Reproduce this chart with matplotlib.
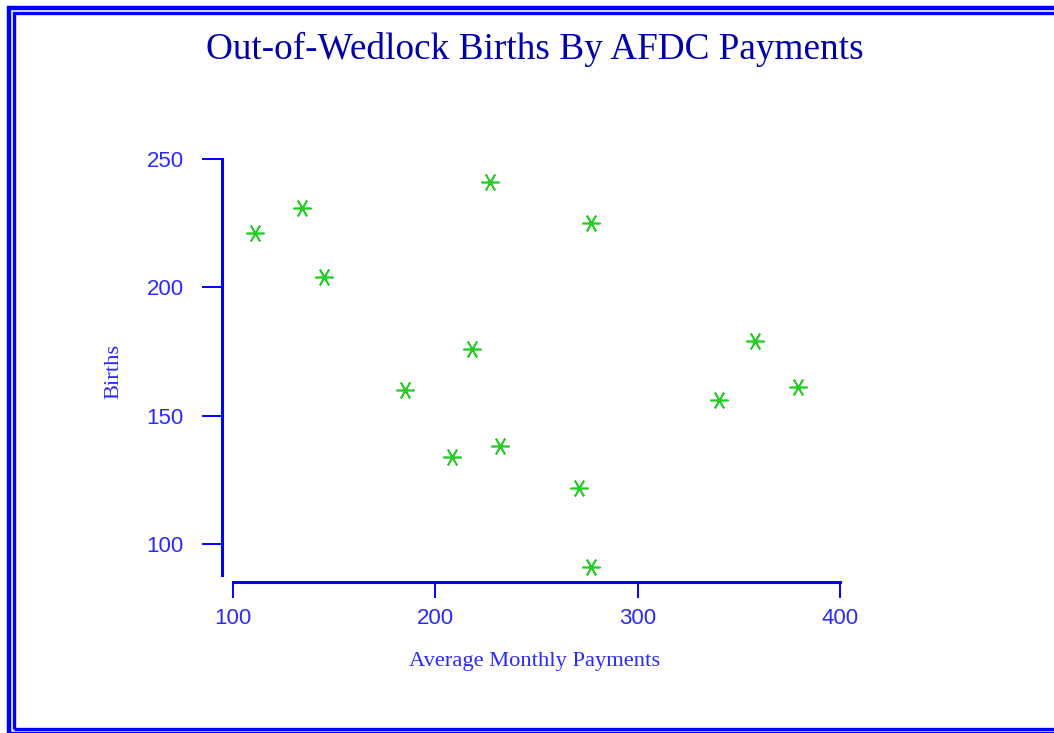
import matplotlib
matplotlib.use('Agg')
import matplotlib.pyplot as plt
from matplotlib.patches import Rectangle

# average monthly AFDC payments vs out-of-wedlock births
payments = [111, 134, 145, 227, 277, 218, 185, 208, 232, 271, 277, 340, 358, 379]
births = [221, 231, 204, 241, 225, 176, 160, 134, 138, 122, 91, 156, 179, 161]
xticks = [100, 200, 300, 400]
yticks = [100, 150, 200, 250]

blue = '#0000ff'
label_blue = '#2a2aff'

fig = plt.figure(figsize=(10.54, 7.33), dpi=100)
ax = fig.add_axes([0.2106, 0.2060, 0.5868, 0.5771])

ax.plot(payments, births, linestyle='none', marker=(6, 2, 90),
        markersize=13, markeredgewidth=1.2, color='#22cc22', clip_on=False)

ax.set_xlim(94.6, 400)
ax.set_ylim(85.2, 250)
ax.set_xticks(xticks)
ax.set_yticks(yticks)

for s in ['top', 'right']:
    ax.spines[s].set_visible(False)
for s in ['left', 'bottom']:
    ax.spines[s].set_color(blue)
    ax.spines[s].set_linewidth(2.2)
ax.spines['bottom'].set_bounds(100, 400)
ax.spines['left'].set_bounds(88, 250)

ax.tick_params(axis='x', direction='out', length=11.5, width=1.4, color=blue,
               labelcolor=label_blue, labelsize=16, pad=7)
ax.tick_params(axis='y', direction='out', length=14.4, width=1.4, color=blue,
               labelcolor=label_blue, labelsize=16, pad=13)
for lab in ax.get_xticklabels() + ax.get_yticklabels():
    lab.set_fontfamily('Liberation Sans')

fig.text(0.5076, 0.932, 'Out-of-Wedlock Births By AFDC Payments', ha='center', va='center',
         fontsize=26.8, family='Liberation Serif', color='#0000aa')
fig.text(0.5076, 0.098, 'Average Monthly Payments', ha='center', va='center',
         fontsize=16.2, family='Liberation Serif', color=label_blue)
fig.text(0.108, 0.494, 'Births', ha='center', va='center', rotation=90,
         fontsize=16.2, family='Liberation Serif', color=label_blue)

# double frame round the picture (right edge runs off the image)
W, H = 1054.0, 733.0
fig.patches.append(Rectangle((9 / W, 1 - 734 / H), 1100 / W, (734 - 7.5) / H,
                             transform=fig.transFigure, fill=False, edgecolor=blue, linewidth=3.2))
fig.patches.append(Rectangle((13.8 / W, 1 - 729 / H), 1100 / W, (729 - 13) / H,
                             transform=fig.transFigure, fill=False, edgecolor=blue, linewidth=2.4))

fig.savefig('out.png', dpi=100)
